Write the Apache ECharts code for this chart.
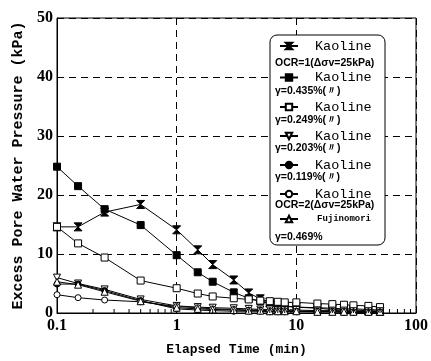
<!DOCTYPE html>
<html><head><meta charset="utf-8">
<script src="https://cdn.jsdelivr.net/npm/echarts@6/dist/echarts.min.js"></script>
<style>html,body{margin:0;padding:0;background:#fff}#c{width:431px;height:361px}</style>
</head><body><div id="c"></div>
<script>
const times = [0.1,0.15,0.25,0.5,1,1.5,2,3,4,5,6,7,8,10,15,20,25,30,40,50];
const ocr1  = [14.6,14.6,17.1,18.4,14.1,10.7,8.2,5.6,3.4,2.4,1.8,1.4,1.2,1.0,0.8,0.6,0.5,0.5,0.4,0.3];
const g435  = [24.8,21.5,17.6,14.9,9.8,6.9,5.3,3.5,2.5,2.0,1.6,1.3,1.1,1.0,0.9,0.8,0.7,0.7,0.6,0.5];
const g249  = [14.6,11.8,9.4,5.5,4.2,3.3,2.8,2.5,2.3,2.1,2.0,1.9,1.8,1.8,1.6,1.5,1.4,1.3,1.2,1.0];
const g203  = [6.0,5.0,4.0,2.3,1.2,1.0,0.9,0.8,0.7,0.6,0.6,0.5,0.5,0.5,0.4,0.4,0.4,0.3,0.3,0.3];
const g119  = [4.9,4.9,3.8,2.1,0.7,0.5,0.4,0.3,0.3,0.3,0.2,0.2,0.2,0.2,0.2,0.2,0.1,0.1,0.1,0.1];
const ocr2  = [3.1,2.6,2.2,1.9,1.1,0.9,0.7,0.6,0.5,0.5,0.4,0.4,0.4,0.3,0.3,0.3,0.3,0.2,0.2,0.2];
const fuji  = [5.3,4.8,3.6,2.0,0.9,0.7,0.6,0.5,0.4,0.4,0.3,0.3,0.3,0.3,0.2,0.2,0.2,0.2,0.2,0.2];
const minorTicks = [0.2,0.3,0.4,0.5,0.6,0.7,0.8,0.9,2,3,4,5,6,7,8,9,20,30,40,50,60,70,80,90];
const xTickLabels = {0.1:'0.1',1:'1',10:'10',100:'100'};
const legendMain = ['Kaoline','Kaoline','Kaoline','Kaoline','Kaoline','Kaoline','Fujinomori'];
const legendSub  = ['OCR=1(Δσv=25kPa)','γ=0.435%(〃)','γ=0.249%(〃)','γ=0.203%(〃)','γ=0.119%(〃)','OCR=2(Δσv=25kPa)','γ=0.469%'];
const seriesNames = ['OCR1','G435','G249','G203','G119','OCR2','FUJI'];

const hour = 'path://M0,0L10,0L5,5L10,10L0,10L5,5Z';
const open = {color:'#fff', borderColor:'#000', borderWidth:1};
const fill = {color:'#000', borderColor:'#000', borderWidth:1};
const specs = [
  {d:ocr1, sym:hour, size:8, it:fill},
  {d:g435, sym:'rect', size:7, it:fill},
  {d:g249, sym:'rect', size:7, it:open},
  {d:g203, sym:'triangle', rot:180, size:7, it:open},
  {d:g119, sym:'circle', size:6, it:fill},
  {d:ocr2, sym:'circle', size:6, it:open},
  {d:fuji, sym:'triangle', size:7, it:open}
];
const series = specs.map((s,i)=>({
  name: seriesNames[i], type:'line', data: times.map((t,j)=>[t,s.d[j]]),
  symbol: s.sym, symbolSize: s.size, symbolRotate: s.rot||0, showAllSymbol:true,
  lineStyle:{color:'#000', width:1}, itemStyle:s.it, z:3, animation:false
}));
series.push({
  type:'custom', data: minorTicks.map(v=>[v,0]), clip:false, silent:true, z:4, animation:false,
  renderItem:(p,api)=>{const c=api.coord([api.value(0),0]);
    return {type:'line', shape:{x1:c[0],y1:c[1],x2:c[0],y2:c[1]-4}, style:{stroke:'#000',lineWidth:1}};}
});
const mainY = [45,76.5,106,135,164,193,217.5];
const subY  = [63,91,120,148.5,177,205,237.5];
const legends = seriesNames.map((n,i)=>({
  data:[n], left:274, top: mainY[i]-(i<6?11:8), itemWidth:18, itemHeight:8, z:10,
  formatter: ()=> legendMain[i], selectedMode:false,
  textStyle: i<6 ? {fontFamily:'Liberation Mono', fontSize:13.5, color:'#000', padding:[0,0,0,12]}
                 : {fontFamily:'Liberation Mono', fontSize:9, fontWeight:'bold', color:'#000', padding:[0,0,0,14]}
}));
const graphics = [{type:'rect', shape:{x:270,y:35,width:115,height:210,r:7}, style:{fill:'#fff',stroke:'#000',lineWidth:1}, z:5}];
legendSub.forEach((t,i)=>graphics.push({type:'text', x:275, y:subY[i], z:11,
  style:{text:t, fill:'#000', font:'bold 10.5px "Liberation Sans"', verticalAlign:'middle'}}));

const chart = echarts.init(document.getElementById('c'));
chart.setOption({
  animation:false,
  grid:{left:57, right:10, top:18, bottom:46, show:true, borderColor:'#000', borderWidth:1, backgroundColor:'transparent'},
  xAxis:{type:'log', logBase:10, min:0.1, max:100,
    name:'Elapsed Time (min)', nameLocation:'middle', nameGap:30,
    nameTextStyle:{fontFamily:'Liberation Mono', fontSize:13, fontWeight:'bold', color:'#000'},
    axisLine:{lineStyle:{color:'#000'}}, axisTick:{inside:true, length:6, lineStyle:{color:'#000'}},
    axisLabel:{formatter:v=>xTickLabels[v]||'', fontFamily:'Liberation Serif', fontWeight:'bold', fontSize:16, color:'#000', margin:5},
    splitLine:{show:true, lineStyle:{color:'#000', type:[7,5], width:1}}},
  yAxis:{type:'value', min:0, max:50, interval:10,
    name:'Excess Pore Water Pressure (kPa)', nameLocation:'middle', nameGap:31,
    nameTextStyle:{fontFamily:'Liberation Mono', fontSize:15, fontWeight:'bold', color:'#000'},
    axisLine:{show:true, lineStyle:{color:'#000'}}, axisTick:{show:false},
    axisLabel:{fontFamily:'Liberation Serif', fontWeight:'bold', fontSize:16, color:'#000', margin:4},
    splitLine:{show:true, lineStyle:{color:'#000', type:[7,5], width:1}}},
  legend: legends,
  graphic: graphics,
  series: series
});
</script></body></html>
